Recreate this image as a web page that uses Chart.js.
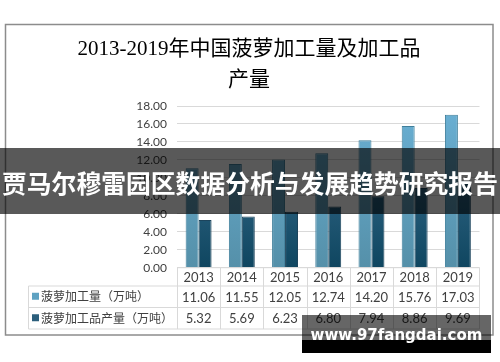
<!DOCTYPE html>
<html>
<head>
<meta charset="utf-8">
<script src="https://cdn.jsdelivr.net/npm/chart.js@4"></script>
<style>
    body { margin: 0; background: #fff; }
    #wrap { position: relative; width: 500px; height: 362px; overflow: hidden; }
    #banner {
        position: absolute; left: 0; top: 148px; width: 500px; height: 66px;
        background: rgba(0, 0, 0, 0.65); color: #fff;
        font: bold 24.8px "Noto Sans CJK SC", sans-serif;
        line-height: 68px; text-align: center; white-space: nowrap;
    }
    #mark {
        position: absolute; left: 302px; top: 315px; width: 189px; height: 38px;
        background: linear-gradient(to bottom, rgba(0,0,0,0.6) 0, rgba(0,0,0,0.6) 25px, #000 25px);
        color: #fff; font: bold 15px "DejaVu Sans", sans-serif;
        text-align: center; line-height: 40px; white-space: nowrap;
    }
</style>
</head>
<body>
<div id="wrap">
    <canvas id="chart" width="500" height="362"></canvas>
    <div id="banner">贾马尔穆雷园区数据分析与发展趋势研究报告</div>
    <div id="mark">www.97fangdai.com</div>
</div>
<script>
    const years = ['2013', '2014', '2015', '2016', '2017', '2018', '2019'];
    const processVolume = [11.06, 11.55, 12.05, 12.74, 14.20, 15.76, 17.03];
    const productOutput = [5.32, 5.69, 6.23, 6.80, 7.94, 8.86, 9.69];
    const seriesNames = ['菠萝加工量（万吨）', '菠萝加工品产量（万吨）'];
    const titleLines = ['2013-2019年中国菠萝加工量及加工品', '产量'];

    // vertical gradient over the plot area
    function gradient(top, bottom) {
        return function (ctx) {
            const area = ctx.chart.chartArea;
            if (!area) return top;
            const g = ctx.chart.ctx.createLinearGradient(0, area.top, 0, area.bottom);
            g.addColorStop(0, top);
            g.addColorStop(1, bottom);
            return g;
        };
    }

    // frame, title and the data table under the bars
    const extras = {
        id: 'extras',
        afterDraw(chart) {
            const c = chart.ctx;
            const x = chart.scales.x;
            const area = chart.chartArea;
            c.save();

            c.strokeStyle = '#8c8c8c';
            c.lineWidth = 1.5;
            c.strokeRect(5.5, 24.5, 487.5, 310.5);

            c.fillStyle = '#000';
            c.font = '21px "Liberation Serif", "Noto Sans CJK SC", serif';
            c.textAlign = 'center';
            c.textBaseline = 'middle';
            c.fillText(titleLines[0], 249, 49);
            c.fillText(titleLines[1], 249, 80);

            const half = (x.getPixelForValue(1) - x.getPixelForValue(0)) / 2;
            const rows = [area.bottom, 286, 307.5, 329];
            const tableLeft = 28.5;

            c.strokeStyle = '#d9d9d9';
            c.lineWidth = 1;
            c.beginPath();
            c.moveTo(area.left, rows[0]); c.lineTo(area.right, rows[0]);
            for (let r = 1; r < rows.length; r++) {
                c.moveTo(tableLeft, rows[r]); c.lineTo(area.right, rows[r]);
            }
            c.moveTo(tableLeft, rows[1]); c.lineTo(tableLeft, rows[3]);
            years.forEach((y, i) => {
                const edge = Math.round(x.getPixelForValue(i) - half) + 0.5;
                c.moveTo(edge, rows[0]); c.lineTo(edge, rows[3]);
            });
            c.moveTo(area.right, rows[0]); c.lineTo(area.right, rows[3]);
            c.stroke();

            c.fillStyle = '#404040';
            c.font = '13px Lato, sans-serif';
            const series = [processVolume, productOutput];
            years.forEach((y, i) => {
                const cx = x.getPixelForValue(i);
                c.fillText(y, cx, (rows[0] + rows[1]) / 2 + 1);
                series.forEach((vals, s) => {
                    c.fillText(vals[i].toFixed(2), cx, (rows[s + 1] + rows[s + 2]) / 2 + 1);
                });
            });

            const swatch = ['#5fa2c2', '#2c5f7c'];
            c.textAlign = 'left';
            c.font = '12px "Noto Sans CJK SC", sans-serif';
            seriesNames.forEach((name, s) => {
                const cy = (rows[s + 1] + rows[s + 2]) / 2;
                c.fillStyle = swatch[s];
                c.fillRect(32, cy - 4, 7, 7);
                c.fillStyle = '#404040';
                c.fillText(name, 41, cy);
            });
            c.restore();
        }
    };

    new Chart(document.getElementById('chart'), {
        type: 'bar',
        data: {
            labels: years,
            datasets: [{
                label: seriesNames[0],
                data: processVolume,
                backgroundColor: gradient('#6ab0d4', '#5590a9'),
                borderColor: '#3f7f9b',
                borderWidth: 1
            }, {
                label: seriesNames[1],
                data: productOutput,
                backgroundColor: gradient('#44789a', '#0f4660'),
                borderColor: '#1c445c',
                borderWidth: 1
            }]
        },
        options: {
            responsive: false,
            animation: false,
            layout: { padding: { left: 137, right: 20.5, top: 106, bottom: 94.3 } },
            plugins: { legend: { display: false }, tooltip: { enabled: false } },
            datasets: { bar: { categoryPercentage: 0.6, barPercentage: 1 } },
            scales: {
                x: { display: false },
                y: {
                    min: 0, max: 18,
                    afterFit(scale) { scale.width = 40; },
                    border: { display: false },
                    grid: { color: '#d9d9d9', drawTicks: false },
                    ticks: {
                        stepSize: 2, padding: 10, color: '#404040',
                        font: { family: 'Lato', size: 12 },
                        callback: v => v.toFixed(2)
                    }
                }
            }
        },
        plugins: [extras]
    });
</script>
</body>
</html>
